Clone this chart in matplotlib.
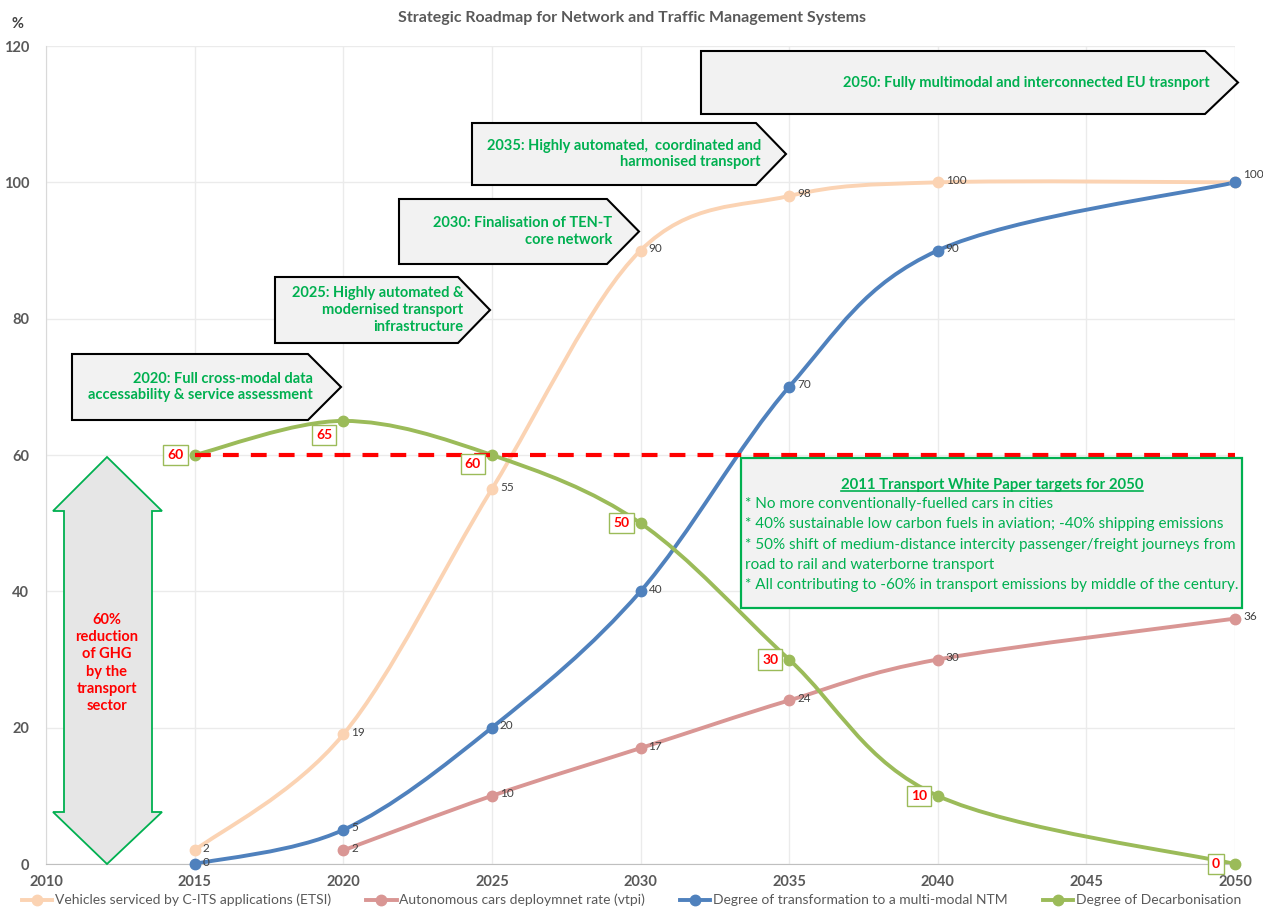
import numpy as np
import matplotlib
matplotlib.use('Agg')
import matplotlib.pyplot as plt
from matplotlib.path import Path
from matplotlib.patches import PathPatch, Polygon, Rectangle
from matplotlib.lines import Line2D
from matplotlib.transforms import Affine2D

plt.rcParams['font.family'] = ['Lato', 'DejaVu Sans']

W, H = 1263, 919

# series
years_its = [2015, 2020, 2025, 2030, 2035, 2040, 2050]
its = [2, 19, 55, 90, 98, 100, 100]
years_auto = [2020, 2025, 2030, 2035, 2040, 2050]
auto = [2, 10, 17, 24, 30, 36]
years_ntm = [2015, 2020, 2025, 2030, 2035, 2040, 2050]
ntm = [0, 5, 20, 40, 70, 90, 100]
years_dec = [2015, 2020, 2025, 2030, 2035, 2040, 2050]
decarb = [60, 65, 60, 50, 30, 10, 0]

target_level = 60
target_years = [2015, 2050]

names = ['Vehicles serviced by C-ITS applications (ETSI)',
         'Autonomous cars deploymnet rate (vtpi)',
         'Degree of transformation to a multi-modal NTM',
         'Degree of Decarbonisation']
colors = ['#FBD3B3', '#D99694', '#4F81BD', '#9BBB59']

milestones = [
    '2020: Full cross-modal data\naccessability & service assessment',
    '2025: Highly automated &\nmodernised transport\ninfrastructure',
    '2030: Finalisation of TEN-T\ncore network',
    '2035: Highly automated,  coordinated and\nharmonised transport',
    '2050: Fully multimodal and interconnected EU trasnport',
]
# callout shapes in pixels: left, top, right, tip, bottom
milestone_boxes = [
    (72, 354, 308, 341, 420),
    (275, 277, 458, 490, 343),
    (399, 199, 607, 639, 264),
    (472, 123, 756, 786, 185),
    (701, 51, 1205, 1238, 114),
]

wp_title = '2011 Transport White Paper targets for 2050'
wp_lines = [
    '* No more conventionally-fuelled cars in cities',
    '* 40% sustainable low carbon fuels in aviation; -40% shipping emissions',
    '* 50% shift of medium-distance intercity passenger/freight journeys from',
    'road to rail and waterborne transport',
    '* All contributing to -60% in transport emissions by middle of the century.',
]
ghg_text = '60%\nreduction\nof GHG\nby the\ntransport\nsector'

GREEN = '#00B050'
GRAY = '#595959'


def smooth_path(x, y):
    # excel-like smoothed line: cubic bezier between the points
    pts = np.column_stack([np.asarray(x, float), np.asarray(y, float)])
    n = len(pts)
    verts = [pts[0]]
    codes = [Path.MOVETO]
    for i in range(n - 1):
        p0 = pts[max(i - 1, 0)]
        p1 = pts[i]
        p2 = pts[i + 1]
        p3 = pts[min(i + 2, n - 1)]
        verts += [p1 + (p2 - p0) / 6, p2 - (p3 - p1) / 6, p2]
        codes += [Path.CURVE4] * 3
    return Path(verts, codes)


fig = plt.figure(figsize=(W / 100, H / 100), dpi=100)
ax = fig.add_axes([46 / W, 1 - 864 / H, (1235 - 46) / W, (864 - 46) / H])
px = Affine2D().scale(1 / W, -1 / H).translate(0, 1) + fig.transFigure

ax.set_xlim(2010, 2050)
ax.set_ylim(0, 120)
ax.set_xticks(range(2010, 2051, 5))
ax.set_yticks(range(0, 121, 20))
ax.grid(True, color='#EBEBEB', lw=1)
ax.set_axisbelow(True)
for s in ['top', 'right']:
    ax.spines[s].set_visible(False)
ax.spines['left'].set_color('#D9D9D9')
ax.spines['bottom'].set_color('#BFBFBF')
ax.tick_params(length=0, labelsize=10.5, labelcolor=GRAY, pad=8)
for lab in ax.get_xticklabels() + ax.get_yticklabels():
    lab.set_fontweight('bold')
ax.tick_params(axis='y', pad=12)

series = [(years_its, its), (years_auto, auto), (years_ntm, ntm), (years_dec, decarb)]
handles = []
for (xs, ys), c, name in zip(series, colors, names):
    ax.add_patch(PathPatch(smooth_path(xs, ys), fill=False, edgecolor=c, lw=2.8,
                           capstyle='round', joinstyle='round', zorder=3))
    ax.plot(xs, ys, 'o', color=c, ms=7.5, zorder=4, clip_on=False)
    handles.append(Line2D([], [], color=c, lw=2.8, marker='o', ms=7.5))

# grey value labels (the 2050 C-ITS point sits under the NTM one, only one label shows)
done = set()
for (xs, ys) in series[2::-1]:
    for xv, yv in zip(xs, ys):
        if (xv, yv) in done:
            continue
        done.add((xv, yv))
        dy = 8 if xv == 2050 and yv == 100 else 2
        ax.annotate(str(yv), (xv, yv), xytext=(8, dy), textcoords='offset pixels',
                    ha='left', va='center', fontsize=8.5, color='#404040', zorder=6,
                    annotation_clip=False)

# decarbonisation labels in boxes
dec_dy = [0, -14, -9, 0, 0, 0, 0]
for xv, yv, dy in zip(years_dec, decarb, dec_dy):
    ax.annotate(str(yv), (xv, yv), xytext=(-19, dy), textcoords='offset pixels',
                ha='center', va='center', fontsize=10, fontweight='bold', color='red',
                zorder=7, annotation_clip=False,
                bbox=dict(boxstyle='square,pad=0.3', fc='white', ec='#9BBB59', lw=1))

ax.plot(target_years, [target_level] * 2, color='red', lw=3, dashes=(3.8, 2.9), zorder=5)

# milestone callouts
for text, (x0, y0, x1, tip, y1) in zip(milestones, milestone_boxes):
    ym = (y0 + y1) / 2
    fig.add_artist(Polygon([(x0, y0), (x1, y0), (tip, ym), (x1, y1), (x0, y1)],
                           closed=True, fc='#F2F2F2', ec='black', lw=1.5, transform=px))
    fig.text(x1 + 5, ym, text, transform=px, ha='right', va='center', color=GREEN,
             fontsize=10.5, fontweight='bold', linespacing=1.25)

# double arrow at the left
arrow = [(107, 457), (162, 511), (152, 511), (152, 812), (162, 812), (107, 864),
         (53, 812), (64, 812), (64, 511), (53, 511)]
fig.add_artist(Polygon(arrow, closed=True, fc='#E6E6E6', ec=GREEN, lw=1.3, transform=px))
fig.text(107, 663, ghg_text, transform=px, ha='center', va='center', color='red',
         fontsize=10.5, fontweight='bold', linespacing=1.3)

# white paper box
fig.add_artist(Rectangle((741, 458), 501, 150, fc='#F2F2F2', ec=GREEN, lw=1.6, transform=px))
t_title = fig.text(992, 485, wp_title, transform=px, ha='center', va='center', color=GREEN,
                   fontsize=10.7, fontweight='bold')
for i, line in enumerate(wp_lines):
    fig.text(745, 504 + i * 20.3, line, transform=px, ha='left', va='center',
             color=GREEN, fontsize=10.95)

fig.text(632, 18, 'Strategic Roadmap for Network and Traffic Management Systems',
         transform=px, ha='center', va='center', color=GRAY, fontsize=11.5, fontweight='bold')
fig.text(18, 24, '%', transform=px, ha='center', va='center', color='#404040',
         fontsize=10.5, fontweight='bold')

leg = fig.legend(handles, names, loc='lower center', bbox_to_anchor=(0.5, 0.0), ncol=4,
                 frameon=False, fontsize=10, handlelength=2.2, handletextpad=0.2,
                 columnspacing=2.5)
for t in leg.get_texts():
    t.set_color(GRAY)

# underline for the white paper title
fig.canvas.draw()
bb = t_title.get_window_extent(fig.canvas.get_renderer())
fig.add_artist(Line2D([bb.x0 / W, bb.x1 / W], [(bb.y0 + 1) / H] * 2,
                      color=GREEN, lw=1.2, transform=fig.transFigure))

fig.savefig('out.png', dpi=100)
